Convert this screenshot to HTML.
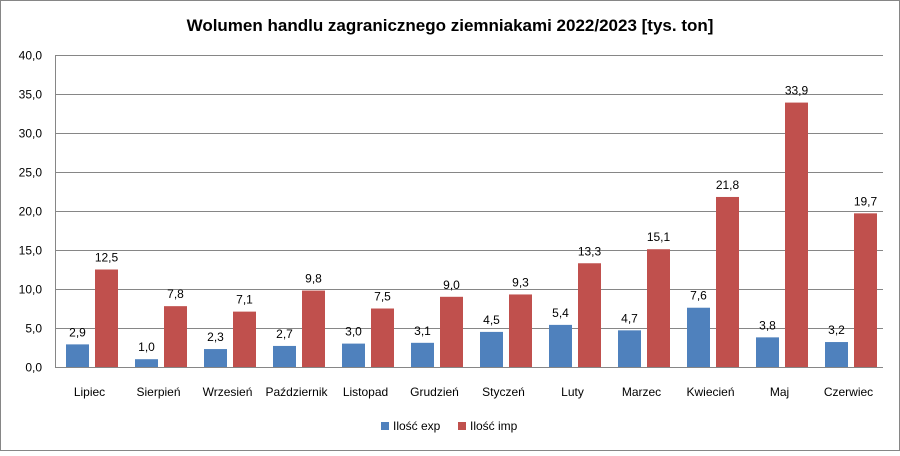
<!DOCTYPE html>
<html><head><meta charset="utf-8"><style>
body{margin:0;background:#fff;}
svg text{font-family:"Liberation Sans",sans-serif;fill:#000;}
</style></head><body>
<svg id="chart" width="900" height="451" xmlns="http://www.w3.org/2000/svg">
<rect x="0.5" y="0.5" width="899" height="450" fill="#fff" stroke="#868686"/>
<text x="450" y="31" text-anchor="middle" font-size="17" font-weight="bold">Wolumen handlu zagranicznego ziemniakami 2022/2023 [tys. ton]</text>
<g id="grid"></g><g id="bars"></g><g id="labels"></g>
<g>
<rect x="381" y="422" width="8" height="8" fill="#4F81BD"/>
<text x="393" y="430" font-size="12">Ilość exp</text>
<rect x="458" y="422" width="8" height="8" fill="#C0504D"/>
<text x="470" y="430" font-size="12">Ilość imp</text>
</g>
</svg>
<script>
const categories=["Lipiec","Sierpień","Wrzesień","Październik","Listopad","Grudzień","Styczeń","Luty","Marzec","Kwiecień","Maj","Czerwiec"];
const expValues=[2.9,1.0,2.3,2.7,3.0,3.1,4.5,5.4,4.7,7.6,3.8,3.2];
const impValues=[12.5,7.8,7.1,9.8,7.5,9.0,9.3,13.3,15.1,21.8,33.9,19.7];
const yTicks=[0,5,10,15,20,25,30,35,40];
const NS="http://www.w3.org/2000/svg";
const x0=55,x1=883,y0=367,y1=55,yMax=40;
const band=(x1-x0)/categories.length;
const yScale=v=>y0-(v/yMax)*(y0-y1);
const xBand=i=>x0+i*band;
function mk(tag,attrs,parent){const e=document.createElementNS(NS,tag);for(const k in attrs)e.setAttribute(k,attrs[k]);parent.appendChild(e);return e;}
const grid=document.getElementById('grid'),bars=document.getElementById('bars'),labels=document.getElementById('labels');
yTicks.forEach(t=>{
 const y=Math.round(yScale(t))+0.5;
 const l=mk('line',{x1:x0,x2:x1,y1:y,y2:y,stroke:'#868686','stroke-width':1},grid);
 
 
 const tx=mk('text',{x:x0-13,y:y+4,'text-anchor':'end','font-size':12},grid);
 tx.textContent=t.toFixed(1).replace('.',',');
 
 
});
const ax=mk('line',{x1:x0+0.5,x2:x0+0.5,y1:y1,y2:y0,stroke:'#868686'},grid);


categories.forEach((c,i)=>{
 const bx=xBand(i);
 [[expValues[i],11,'#4F81BD','exp'],[impValues[i],40,'#C0504D','imp']].forEach(([v,off,col,s])=>{
  const y=yScale(v);
  const r=mk('rect',{x:bx+off,y:y,width:23,height:y0-y,fill:col},bars);
  
  
  const t=mk('text',{x:bx+off+11.5,y:y-8,'text-anchor':'middle','font-size':12},labels);
  t.textContent=v.toFixed(1).replace('.',',');
  
  
 });
 const t=mk('text',{x:bx+band/2,y:396,'text-anchor':'middle','font-size':12},labels);
 t.textContent=c;
 
 
});
</script>
</body></html>
